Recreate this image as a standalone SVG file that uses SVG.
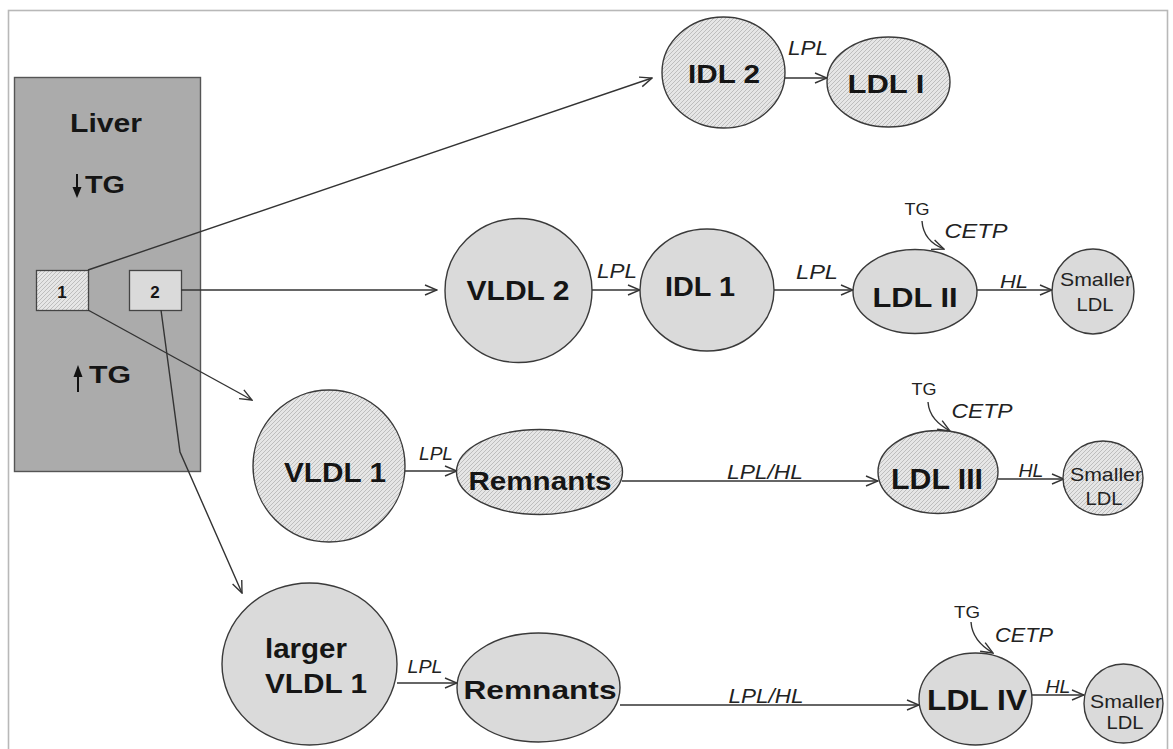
<svg xmlns="http://www.w3.org/2000/svg" width="1173" height="749" viewBox="0 0 1173 749">
<style>
.b{font-family:"Liberation Sans",Arial,sans-serif;font-weight:bold;fill:#151515;text-anchor:middle}
.i{font-family:"Liberation Sans",Arial,sans-serif;font-style:italic;fill:#222;text-anchor:middle}
.r{font-family:"Liberation Sans",Arial,sans-serif;fill:#222;text-anchor:middle}
.n{stroke:#3a3a3a;stroke-width:1.4}
.h{fill:url(#hatch)}
.g{fill:#dadada}
.c{fill:none;stroke:#333;stroke-width:1.4}
</style>
<defs>
<pattern id="hatch" patternUnits="userSpaceOnUse" width="4" height="4">
<rect width="4" height="4" fill="#e6e6e6"/>
<path d="M-1,1 l2,-2 M0,4 l4,-4 M3,5 l2,-2" stroke="#b4b4b4" stroke-width="0.8"/>
</pattern>
<marker id="ar" markerWidth="14" markerHeight="12" refX="13" refY="6" orient="auto" markerUnits="userSpaceOnUse">
<path d="M1,1 L13,6 L1,11" fill="none" stroke="#333" stroke-width="1.4"/>
</marker>
</defs>
<rect width="1173" height="749" fill="#fff"/>
<rect x="8.5" y="10.5" width="1159" height="760" fill="none" stroke="#b8b8b8" stroke-width="1.6"/>

<g id="liver">
<rect x="14.5" y="77.5" width="186" height="394" fill="#ababab" stroke="#555" stroke-width="1.4"/>
<text class="b" x="106" y="132" font-size="25" textLength="72" lengthAdjust="spacingAndGlyphs">Liver</text>
<line x1="77" y1="174" x2="77" y2="189" stroke="#111" stroke-width="2"/>
<path d="M72.5,187 L81.5,187 L77,198 Z" fill="#111"/>
<text class="b" x="105" y="193" font-size="24" textLength="40" lengthAdjust="spacingAndGlyphs">TG</text>
<line x1="78" y1="376" x2="78" y2="392" stroke="#111" stroke-width="2"/>
<path d="M73.5,377 L82.5,377 L78,365 Z" fill="#111"/>
<text class="b" x="110" y="383" font-size="24" textLength="42" lengthAdjust="spacingAndGlyphs">TG</text>
</g>
<g id="box1">
<rect x="36.5" y="270.5" width="52" height="40" class="h" stroke="#444" stroke-width="1.3"/>
<text class="b" x="62" y="298" font-size="17">1</text>
</g>
<g id="box2">
<rect x="129.5" y="270.5" width="52" height="40" fill="#dadada" stroke="#444" stroke-width="1.3"/>
<text class="b" x="155" y="298" font-size="17">2</text>
</g>

<g id="connectors" class="c">
<line x1="88" y1="270" x2="652" y2="78" marker-end="url(#ar)"/>
<line x1="88" y1="310" x2="252" y2="400" marker-end="url(#ar)"/>
<line x1="181" y1="290" x2="437" y2="290" marker-end="url(#ar)"/>
<polyline points="161,310 180,452 242,593" marker-end="url(#ar)"/>
<line x1="785" y1="78" x2="827" y2="78" marker-end="url(#ar)"/>
<line x1="592" y1="290" x2="640" y2="290" marker-end="url(#ar)"/>
<line x1="774" y1="290" x2="853" y2="290" marker-end="url(#ar)"/>
<line x1="977" y1="290" x2="1052" y2="290" marker-end="url(#ar)"/>
<line x1="405" y1="471" x2="457" y2="471" marker-end="url(#ar)"/>
<line x1="622" y1="481" x2="878" y2="481" marker-end="url(#ar)"/>
<line x1="998" y1="479" x2="1064" y2="479" marker-end="url(#ar)"/>
<line x1="397" y1="683" x2="457" y2="683" marker-end="url(#ar)"/>
<line x1="620" y1="705" x2="919" y2="705" marker-end="url(#ar)"/>
<line x1="1032" y1="695" x2="1084" y2="695" marker-end="url(#ar)"/>
<path d="M922,221 C923,236 931,244 944,249" marker-end="url(#ar)"/>
<path d="M928,402 C929,416 938,424 950,431" marker-end="url(#ar)"/>
<path d="M971,622 C972,637 981,646 993,653" marker-end="url(#ar)"/>
</g>

<g id="labels">
<text class="i" x="808" y="55" font-size="20" textLength="40" lengthAdjust="spacingAndGlyphs">LPL</text>
<text class="i" x="617" y="278" font-size="20" textLength="40" lengthAdjust="spacingAndGlyphs">LPL</text>
<text class="i" x="817" y="279" font-size="20" textLength="42" lengthAdjust="spacingAndGlyphs">LPL</text>
<text class="i" x="1014" y="288" font-size="19" textLength="28" lengthAdjust="spacingAndGlyphs">HL</text>
<text class="r" x="917" y="215" font-size="17" textLength="25" lengthAdjust="spacingAndGlyphs">TG</text>
<text class="i" x="976" y="238" font-size="21" textLength="63" lengthAdjust="spacingAndGlyphs">CETP</text>
<text class="i" x="436" y="460" font-size="18" textLength="34" lengthAdjust="spacingAndGlyphs">LPL</text>
<text class="i" x="765" y="479" font-size="21" textLength="76" lengthAdjust="spacingAndGlyphs">LPL/HL</text>
<text class="i" x="1031" y="477" font-size="19" textLength="25" lengthAdjust="spacingAndGlyphs">HL</text>
<text class="r" x="924" y="395" font-size="17" textLength="25" lengthAdjust="spacingAndGlyphs">TG</text>
<text class="i" x="982" y="418" font-size="21" textLength="61" lengthAdjust="spacingAndGlyphs">CETP</text>
<text class="i" x="425" y="673" font-size="18" textLength="35" lengthAdjust="spacingAndGlyphs">LPL</text>
<text class="i" x="766" y="703" font-size="21" textLength="75" lengthAdjust="spacingAndGlyphs">LPL/HL</text>
<text class="i" x="1058" y="693" font-size="19" textLength="25" lengthAdjust="spacingAndGlyphs">HL</text>
<text class="r" x="967" y="618" font-size="17" textLength="26" lengthAdjust="spacingAndGlyphs">TG</text>
<text class="i" x="1024" y="642" font-size="21" textLength="58" lengthAdjust="spacingAndGlyphs">CETP</text>
</g>

<g id="idl2">
<ellipse cx="723.5" cy="72.5" rx="61.5" ry="55.5" class="n h"/>
<text class="b" x="724" y="83" font-size="26" textLength="72" lengthAdjust="spacingAndGlyphs">IDL 2</text>
</g>
<g id="ldl1">
<ellipse cx="888.5" cy="82" rx="61.5" ry="45" class="n h"/>
<text class="b" x="886" y="93" font-size="26" textLength="77" lengthAdjust="spacingAndGlyphs">LDL I</text>
</g>
<g id="vldl2">
<ellipse cx="518.5" cy="290.5" rx="73.5" ry="72" class="n g"/>
<text class="b" x="518" y="300" font-size="28" textLength="103" lengthAdjust="spacingAndGlyphs">VLDL 2</text>
</g>
<g id="idl1">
<ellipse cx="707" cy="290" rx="67" ry="61" class="n g"/>
<text class="b" x="700" y="296" font-size="28" textLength="70" lengthAdjust="spacingAndGlyphs">IDL 1</text>
</g>
<g id="ldl2">
<ellipse cx="915" cy="291.5" rx="62" ry="42" class="n g"/>
<text class="b" x="915" y="307" font-size="28" textLength="85" lengthAdjust="spacingAndGlyphs">LDL II</text>
</g>
<g id="small1">
<ellipse cx="1093" cy="291.5" rx="41" ry="42.5" class="n g"/>
<text class="r" x="1096" y="286" font-size="19" textLength="72" lengthAdjust="spacingAndGlyphs">Smaller</text>
<text class="r" x="1095" y="311" font-size="19" textLength="37" lengthAdjust="spacingAndGlyphs">LDL</text>
</g>
<g id="vldl1">
<ellipse cx="329" cy="466" rx="76" ry="76" class="n h"/>
<text class="b" x="335" y="482" font-size="28" textLength="102" lengthAdjust="spacingAndGlyphs">VLDL 1</text>
</g>
<g id="rem1">
<ellipse cx="539.5" cy="472" rx="83" ry="42.5" class="n h"/>
<text class="b" x="540" y="490" font-size="26" textLength="143" lengthAdjust="spacingAndGlyphs">Remnants</text>
</g>
<g id="ldl3">
<ellipse cx="938" cy="472" rx="60" ry="41.5" class="n h"/>
<text class="b" x="937" y="489" font-size="29" textLength="92" lengthAdjust="spacingAndGlyphs">LDL III</text>
</g>
<g id="small2">
<ellipse cx="1103" cy="478" rx="40" ry="37" class="n h"/>
<text class="r" x="1106" y="481" font-size="19" textLength="72" lengthAdjust="spacingAndGlyphs">Smaller</text>
<text class="r" x="1104" y="505" font-size="19" textLength="37" lengthAdjust="spacingAndGlyphs">LDL</text>
</g>
<g id="lvldl1">
<ellipse cx="309.5" cy="664" rx="87.5" ry="81" class="n g"/>
<text class="b" x="306" y="658" font-size="27" textLength="82" lengthAdjust="spacingAndGlyphs">larger</text>
<text class="b" x="316" y="693" font-size="27" textLength="102" lengthAdjust="spacingAndGlyphs">VLDL 1</text>
</g>
<g id="rem2">
<ellipse cx="538.5" cy="687.5" rx="81.5" ry="54.5" class="n g"/>
<text class="b" x="540" y="699" font-size="26" textLength="153" lengthAdjust="spacingAndGlyphs">Remnants</text>
</g>
<g id="ldl4">
<ellipse cx="975.5" cy="699" rx="56.5" ry="46" class="n g"/>
<text class="b" x="977" y="710" font-size="30" textLength="100" lengthAdjust="spacingAndGlyphs">LDL IV</text>
</g>
<g id="small3">
<ellipse cx="1123.5" cy="703.5" rx="39.5" ry="39.5" class="n g"/>
<text class="r" x="1126" y="708" font-size="19" textLength="72" lengthAdjust="spacingAndGlyphs">Smaller</text>
<text class="r" x="1125" y="729" font-size="19" textLength="37" lengthAdjust="spacingAndGlyphs">LDL</text>
</g>
</svg>
